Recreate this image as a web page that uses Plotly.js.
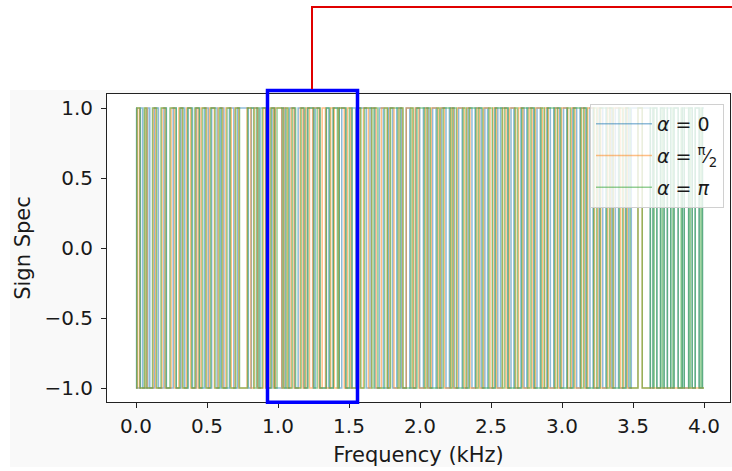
<!DOCTYPE html>
<html>
<head>
<meta charset="utf-8">
<script src="https://cdn.plot.ly/plotly-3.0.1.min.js"></script>
<style>
  html, body { margin: 0; padding: 0; background: #ffffff; overflow: hidden; }
  #chart { width: 732px; height: 471px; }
</style>
</head>
<body>
<div id="chart"></div>
<script>
// Sign of the spectrum (+1 / -1) for three phase offsets over 0 .. 4 kHz.
// Each series is stored as its sign at 0 kHz plus the frequencies (kHz) where the sign flips.
const F_MAX_KHZ = 4.0;

const startSignAlpha0 = 1;
const flipsAlpha0 = [
  0.004, 0.031, 0.047, 0.083, 0.097, 0.131, 0.158, 0.197, 0.214, 0.262, 0.283, 0.317,
  0.343, 0.367, 0.398, 0.424, 0.447, 0.482, 0.509, 0.533, 0.571, 0.596, 0.619, 0.658,
  0.689, 0.716,
  0.791, 0.812, 0.857, 0.874, 0.921,
  0.958, 0.979, 1.027, 1.049, 1.081, 1.118, 1.142, 1.181, 1.207, 1.248, 1.262, 1.294,
  1.339, 1.358, 1.389, 1.431, 1.449, 1.476, 1.521, 1.547,
  1.568, 1.622, 1.648, 1.683, 1.714, 1.742, 1.779, 1.808, 1.836, 1.869, 1.903, 1.928,
  1.971, 1.998, 2.024, 2.061, 2.089, 2.113, 2.152, 2.183, 2.207, 2.241, 2.272, 2.297,
  2.338, 2.366, 2.388, 2.431, 2.457, 2.476, 2.527, 2.548, 2.567, 2.618, 2.641, 2.661,
  2.711, 2.733, 2.752, 2.801, 2.824, 2.847, 2.894, 2.918, 2.942, 2.984, 3.011, 3.034,
  3.076, 3.103, 3.127, 3.168, 3.197, 3.219, 3.262, 3.287, 3.309, 3.351, 3.376, 3.398,
  3.447, 3.468, 3.488,
  3.622, 3.641, 3.668, 3.694, 3.719, 3.742, 3.766, 3.789, 3.818, 3.847, 3.861, 3.892,
  3.917, 3.938, 3.966, 3.989
];

const startSignHalfPi = -1;
const flipsHalfPi = [
  0.009, 0.024, 0.064, 0.078, 0.121, 0.139, 0.183, 0.204, 0.247, 0.271, 0.302, 0.327,
  0.356, 0.385, 0.421, 0.437, 0.459, 0.497, 0.518, 0.552, 0.579, 0.611, 0.633, 0.671,
  0.697, 0.724,
  0.782, 0.809, 0.833, 0.856, 0.897, 0.912,
  0.944, 0.969, 0.981, 1.027, 1.041, 1.066, 1.093, 1.113, 1.157, 1.176, 1.196, 1.222,
  1.244, 1.289, 1.311, 1.334, 1.371, 1.396, 1.424, 1.467, 1.489, 1.511, 1.553,
  1.579, 1.602, 1.637, 1.659, 1.691, 1.728, 1.769, 1.788, 1.817, 1.852, 1.877, 1.903,
  1.947, 1.966, 1.992, 2.038, 2.054, 2.079, 2.128, 2.144, 2.171, 2.219, 2.236, 2.262,
  2.311, 2.329, 2.352, 2.401, 2.419, 2.447, 2.493, 2.514, 2.538, 2.582, 2.606, 2.629,
  2.673, 2.694, 2.724, 2.768, 2.789, 2.812, 2.861, 2.879, 2.903, 2.953, 2.972, 2.997,
  3.041, 3.066, 3.091, 3.137, 3.158, 3.181, 3.228, 3.251, 3.273, 3.322, 3.341, 3.363,
  3.412, 3.433, 3.459,
  3.535, 3.565
];

const startSignPi = -1;
const flipsPi = [
  0.006, 0.029, 0.058, 0.072, 0.116, 0.146, 0.176, 0.212, 0.239, 0.283, 0.309, 0.331,
  0.364, 0.392, 0.414, 0.446, 0.468, 0.491, 0.526, 0.557, 0.587, 0.604, 0.641, 0.664,
  0.703, 0.729,
  0.786, 0.829, 0.848, 0.866, 0.889, 0.915,
  0.951, 0.974, 0.993, 1.036, 1.057, 1.073, 1.101, 1.124, 1.163, 1.189, 1.211, 1.253,
  1.276, 1.297, 1.341, 1.364, 1.389, 1.418, 1.431, 1.479, 1.503, 1.521, 1.563,
  1.584, 1.609, 1.661, 1.676, 1.703, 1.751, 1.771, 1.793, 1.844, 1.861, 1.881, 1.936,
  1.953, 1.979, 2.031, 2.049, 2.072, 2.121, 2.139, 2.163, 2.214, 2.229, 2.256, 2.303,
  2.324, 2.347, 2.393, 2.412, 2.441, 2.484, 2.509, 2.531, 2.578, 2.596, 2.621, 2.668,
  2.687, 2.716, 2.759, 2.781, 2.806, 2.853, 2.874, 2.898, 2.947, 2.967, 2.991, 3.037,
  3.059, 3.083, 3.132, 3.152, 3.174, 3.223, 3.244, 3.268, 3.314, 3.336, 3.359, 3.403,
  3.427, 3.452, 3.479,
  3.535, 3.565,
  3.622, 3.641, 3.649, 3.668, 3.694, 3.707, 3.719, 3.742, 3.766, 3.781, 3.789, 3.818,
  3.839, 3.847, 3.861, 3.892, 3.903, 3.917, 3.938, 3.966, 3.978, 3.989
];

const seriesNames = [
  '<i>α</i> = 0',
  '<i>α</i> = <sup>π</sup>⁄<sub>2</sub>',
  '<i>α</i> = <i>π</i>'
];
const seriesColors = ['rgba(31,119,180,0.5)', 'rgba(255,127,14,0.5)', 'rgba(44,160,44,0.5)'];

const xTickValues = [0, 0.5, 1, 1.5, 2, 2.5, 3, 3.5, 4];
const yTickValues = [-1, -0.5, 0, 0.5, 1];

// Turn a start sign + flip list into run starts for a horizontal-then-vertical step line.
function stepSeries(startSign, flips) {
  const x = [0], y = [startSign];
  let s = startSign;
  flips.forEach(f => { s = -s; x.push(f); y.push(s); });
  x.push(F_MAX_KHZ); y.push(s);
  return {x, y};
}

const series = [
  stepSeries(startSignAlpha0, flipsAlpha0),
  stepSeries(startSignHalfPi, flipsHalfPi),
  stepSeries(startSignPi, flipsPi)
];

const traces = series.map((s, i) => ({
  type: 'scatter',
  mode: 'lines',
  x: s.x,
  y: s.y,
  name: seriesNames[i],
  legendgroup: 'g' + i,
  line: {color: seriesColors[i], width: 1.5, shape: 'hv'}
}));

// plot area in pixels: 107..730 horizontally, 94..402 vertically
const L = 107, R = 730, T = 94, B = 402;
const W = 732, H = 471;
const px = v => (v - L) / (R - L);
const py = v => (B - v) / (B - T);

const FONT = 'DejaVu Sans, Liberation Sans, sans-serif';

const layout = {
  width: W,
  height: H,
  margin: {l: L, r: W - R, t: T, b: H - B, pad: 0},
  paper_bgcolor: '#ffffff',
  plot_bgcolor: 'rgba(0,0,0,0)',
  font: {family: FONT, size: 20, color: '#1a1a1a'},
  showlegend: true,
  legend: {
    x: px(590), y: py(104), xanchor: 'left', yanchor: 'top',
    bgcolor: 'rgba(255,255,255,0.8)',
    bordercolor: '#d0d0d0', borderwidth: 1,
    font: {family: FONT, size: 19, color: '#1a1a1a'},
    itemwidth: 56,
    tracegroupgap: 4,
    traceorder: 'grouped'
  },
  xaxis: {
    range: [(L - 136) / 142, (R - 136) / 142],
    tickvals: xTickValues,
    tickformat: '.1f',
    ticks: 'outside', ticklen: 5, tickwidth: 1, tickcolor: '#222',
    ticklabelstandoff: 1,
    showline: true, linecolor: '#222', linewidth: 1, mirror: true,
    showgrid: false, zeroline: false,
    tickfont: {size: 20},
    title: {text: 'Frequency (kHz)', font: {size: 21}, standoff: 10}
  },
  yaxis: {
    range: [-1.1, 1.1],
    tickvals: yTickValues,
    tickformat: '.1f',
    ticks: 'outside', ticklen: 5, tickwidth: 1, tickcolor: '#222',
    ticklabelstandoff: 4,
    showline: true, linecolor: '#222', linewidth: 1, mirror: true,
    showgrid: false, zeroline: false,
    tickfont: {size: 20},
    title: {text: 'Sign Spec', font: {size: 21}, standoff: 8}
  },
  shapes: [
    // figure background of the embedded plot
    {type: 'rect', xref: 'paper', yref: 'paper', layer: 'below',
     x0: px(10), x1: px(740), y0: py(467), y1: py(90),
     fillcolor: '#f9f9f9', line: {width: 0}},
    // white axes area
    {type: 'rect', xref: 'paper', yref: 'paper', layer: 'below',
     x0: 0, x1: 1, y0: 0, y1: 1,
     fillcolor: '#ffffff', line: {width: 0}},
    // highlighted band 0.93 - 1.56 kHz
    {type: 'rect', xref: 'paper', yref: 'paper', layer: 'above',
     x0: px(267.5), x1: px(357.5), y0: py(402.3), y1: py(90.5),
     fillcolor: 'rgba(0,0,0,0)', line: {color: '#0000ff', width: 3.5}},
    // leader line to the zoomed view
    {type: 'path', xref: 'paper', yref: 'paper', layer: 'above',
     path: 'M ' + px(312) + ' ' + py(89) + ' L ' + px(312) + ' ' + py(7) + ' L ' + px(745) + ' ' + py(7),
     line: {color: '#e00000', width: 2}}
  ]
};

Plotly.newPlot('chart', traces, layout, {displayModeBar: false, staticPlot: true});
</script>
</body>
</html>
